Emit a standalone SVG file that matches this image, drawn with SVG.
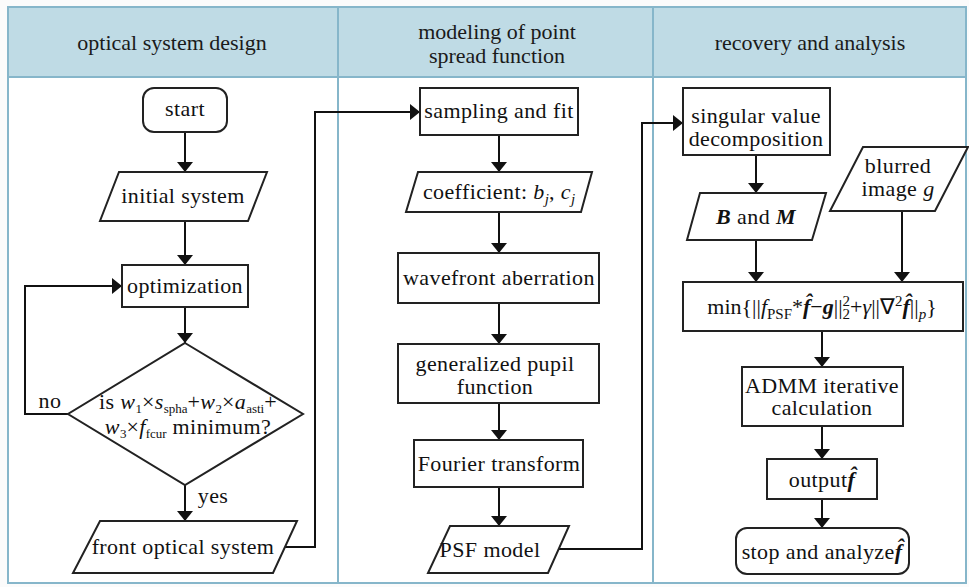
<svg xmlns="http://www.w3.org/2000/svg" width="969" height="587" viewBox="0 0 969 587">
  <defs>
    <marker id="arrow" viewBox="0 0 10 16" refX="10" refY="8" markerWidth="10" markerHeight="16" markerUnits="userSpaceOnUse" orient="auto">
      <path d="M0,0 L10,8 L0,16 z" fill="#111"/>
    </marker>
    <style>
      .hdr { font-family: "Liberation Serif", "Times New Roman", serif; font-size: 22px; fill: #1a1a1a; text-anchor: middle; }
      .lbl { font-family: "Liberation Serif", "Times New Roman", serif; font-size: 22px; letter-spacing: 0.4px; fill: #111; text-anchor: middle; }
      .shape { fill: #fff; stroke: #222; stroke-width: 2; }
      .conn { fill: none; stroke: #111; stroke-width: 2; }
      .arr { marker-end: url(#arrow); }
      .it { font-style: italic; }
      .bi { font-style: italic; font-weight: bold; }
      .sub { font-size: 15px; letter-spacing: 0; }
      .sm { font-size: 13px; letter-spacing: 0; }
      .grid { fill: none; stroke: #86b6ca; stroke-width: 2; }
    </style>
  </defs>

  <!-- swimlane table -->
  <g id="table">
    <rect x="0" y="0" width="969" height="587" fill="#fbfbfb"/>
    <rect x="8" y="7" width="958" height="576" fill="#fff"/>
    <rect x="8" y="7" width="958" height="70" fill="#bfdbe5"/>
    <rect class="grid" x="8" y="7" width="958" height="576"/>
    <line class="grid" x1="8" y1="77" x2="966" y2="77"/>
    <line class="grid" x1="338" y1="7" x2="338" y2="583"/>
    <line class="grid" x1="653" y1="7" x2="653" y2="583"/>
    <text class="hdr" x="172" y="50">optical system design</text>
    <text class="hdr" x="497" y="39">modeling of point</text>
    <text class="hdr" x="497" y="63">spread function</text>
    <text class="hdr" x="810" y="50">recovery and analysis</text>
  </g>

  <!-- connectors -->
  <g id="connectors">
    <path class="conn arr" d="M185,132 V172"/>
    <path class="conn arr" d="M185,221 V265"/>
    <path class="conn arr" d="M185,307 V343"/>
    <path class="conn arr" d="M185,485 V521"/>
    <path class="conn arr" d="M68,414 H25 V286 H122"/>
    <path class="conn arr" d="M285,547 H315 V112 H420"/>
    <path class="conn arr" d="M499,135 V172"/>
    <path class="conn arr" d="M499,212 V253"/>
    <path class="conn arr" d="M499,303 V344"/>
    <path class="conn arr" d="M499,403 V440"/>
    <path class="conn arr" d="M499,487 V526"/>
    <path class="conn arr" d="M559,549 H642 V123 H683"/>
    <path class="conn arr" d="M756,155 V193"/>
    <path class="conn arr" d="M756,240 V282"/>
    <path class="conn arr" d="M902,211 V282"/>
    <path class="conn arr" d="M822,331 V367"/>
    <path class="conn arr" d="M822,426 V459"/>
    <path class="conn arr" d="M822,499 V528"/>
    <text class="lbl" x="50" y="408">no</text>
    <text class="lbl" x="213" y="503">yes</text>
  </g>

  <!-- lane 1: optical system design -->
  <g id="start">
    <rect class="shape" x="143" y="88" width="84" height="44" rx="11"/>
    <text class="lbl" x="185" y="116">start</text>
  </g>
  <g id="initial-system">
    <polygon class="shape" points="119,172 267,172 248,221 100,221"/>
    <text class="lbl" x="183" y="203">initial system</text>
  </g>
  <g id="optimization">
    <rect class="shape" x="122" y="265" width="126" height="42"/>
    <text class="lbl" x="185" y="293">optimization</text>
  </g>
  <g id="decision">
    <polygon class="shape" points="185,343 303,414 185,485 68,414"/>
    <text class="lbl" x="188" y="409">is <tspan class="it">w</tspan><tspan class="sm" dy="4">1</tspan><tspan dy="-4">×</tspan><tspan class="it">s</tspan><tspan class="sm" dy="4">spha</tspan><tspan dy="-4">+</tspan><tspan class="it">w</tspan><tspan class="sm" dy="4">2</tspan><tspan dy="-4">×</tspan><tspan class="it">a</tspan><tspan class="sm" dy="4">asti</tspan><tspan dy="-4">+</tspan></text>
    <text class="lbl" x="188" y="434"><tspan class="it">w</tspan><tspan class="sm" dy="4">3</tspan><tspan dy="-4">×</tspan><tspan class="it">f</tspan><tspan class="sm" dy="4">fcur</tspan><tspan dy="-4"> minimum?</tspan></text>
  </g>
  <g id="front-optical-system">
    <polygon class="shape" points="100,521 297,521 273,573 73,573"/>
    <text class="lbl" x="183" y="554">front optical system</text>
  </g>

  <!-- lane 2: point spread function model -->
  <g id="sampling">
    <rect class="shape" x="420" y="88" width="158" height="47"/>
    <text class="lbl" x="499" y="118">sampling and fit</text>
  </g>
  <g id="coefficient">
    <polygon class="shape" points="418,172 592,172 581,212 406,212"/>
    <text class="lbl" x="499" y="199">coefficient: <tspan class="it">b</tspan><tspan class="sub it" dy="5">j</tspan><tspan dy="-5">, </tspan><tspan class="it">c</tspan><tspan class="sub it" dy="5">j</tspan></text>
  </g>
  <g id="wavefront">
    <rect class="shape" x="398" y="253" width="201" height="50"/>
    <text class="lbl" x="499" y="285">wavefront aberration</text>
  </g>
  <g id="pupil">
    <rect class="shape" x="398" y="344" width="201" height="59"/>
    <text class="lbl" x="495" y="371">generalized pupil</text>
    <text class="lbl" x="495" y="394">function</text>
  </g>
  <g id="fourier">
    <rect class="shape" x="414" y="440" width="169" height="47"/>
    <text class="lbl" x="499" y="471">Fourier transform</text>
  </g>
  <g id="psf-model">
    <polygon class="shape" points="450,526 569,526 548,573 428,573"/>
    <text class="lbl" x="490" y="557">PSF model</text>
  </g>

  <!-- lane 3: recovery and analysis -->
  <g id="svd">
    <rect class="shape" x="683" y="88" width="147" height="67"/>
    <text class="lbl" x="756" y="123">singular value</text>
    <text class="lbl" x="756" y="146">decomposition</text>
  </g>
  <g id="b-and-m">
    <polygon class="shape" points="700,193 826,193 812,240 687,240"/>
    <text class="lbl" x="756" y="224"><tspan class="bi">B</tspan> and <tspan class="bi">M</tspan></text>
  </g>
  <g id="blurred">
    <polygon class="shape" points="863,147 968,147 935,211 830,211"/>
    <text class="lbl" x="898" y="173">blurred</text>
    <text class="lbl" x="898" y="196">image <tspan class="it">g</tspan></text>
  </g>
  <g id="objective">
    <rect class="shape" x="683" y="282" width="280" height="49"/>
    <text class="lbl" x="822" y="314" style="letter-spacing:0">min{||<tspan class="it">f</tspan><tspan class="sub" dy="5">PSF</tspan><tspan dy="-5">*</tspan><tspan class="bi">f̂</tspan>−<tspan class="bi">g</tspan>||<tspan class="sub" dy="-8">2</tspan><tspan class="sub" dx="-7.5" dy="13">2</tspan><tspan dy="-5">+</tspan><tspan class="it">γ</tspan>||∇<tspan class="sub" dy="-8">2</tspan><tspan class="bi" dy="8">f̂</tspan>||<tspan class="sub it" dy="5">p</tspan><tspan dy="-5">}</tspan></text>
  </g>
  <g id="admm">
    <rect class="shape" x="742" y="367" width="161" height="59"/>
    <text class="lbl" x="822" y="393">ADMM iterative</text>
    <text class="lbl" x="822" y="415">calculation</text>
  </g>
  <g id="output">
    <rect class="shape" x="767" y="459" width="110" height="40"/>
    <text class="lbl" x="822" y="487">output<tspan class="bi">f̂</tspan></text>
  </g>
  <g id="stop">
    <rect class="shape" x="736" y="528" width="173" height="46" rx="11"/>
    <text class="lbl" x="822" y="559">stop and analyze<tspan class="bi">f̂</tspan></text>
  </g>
</svg>
